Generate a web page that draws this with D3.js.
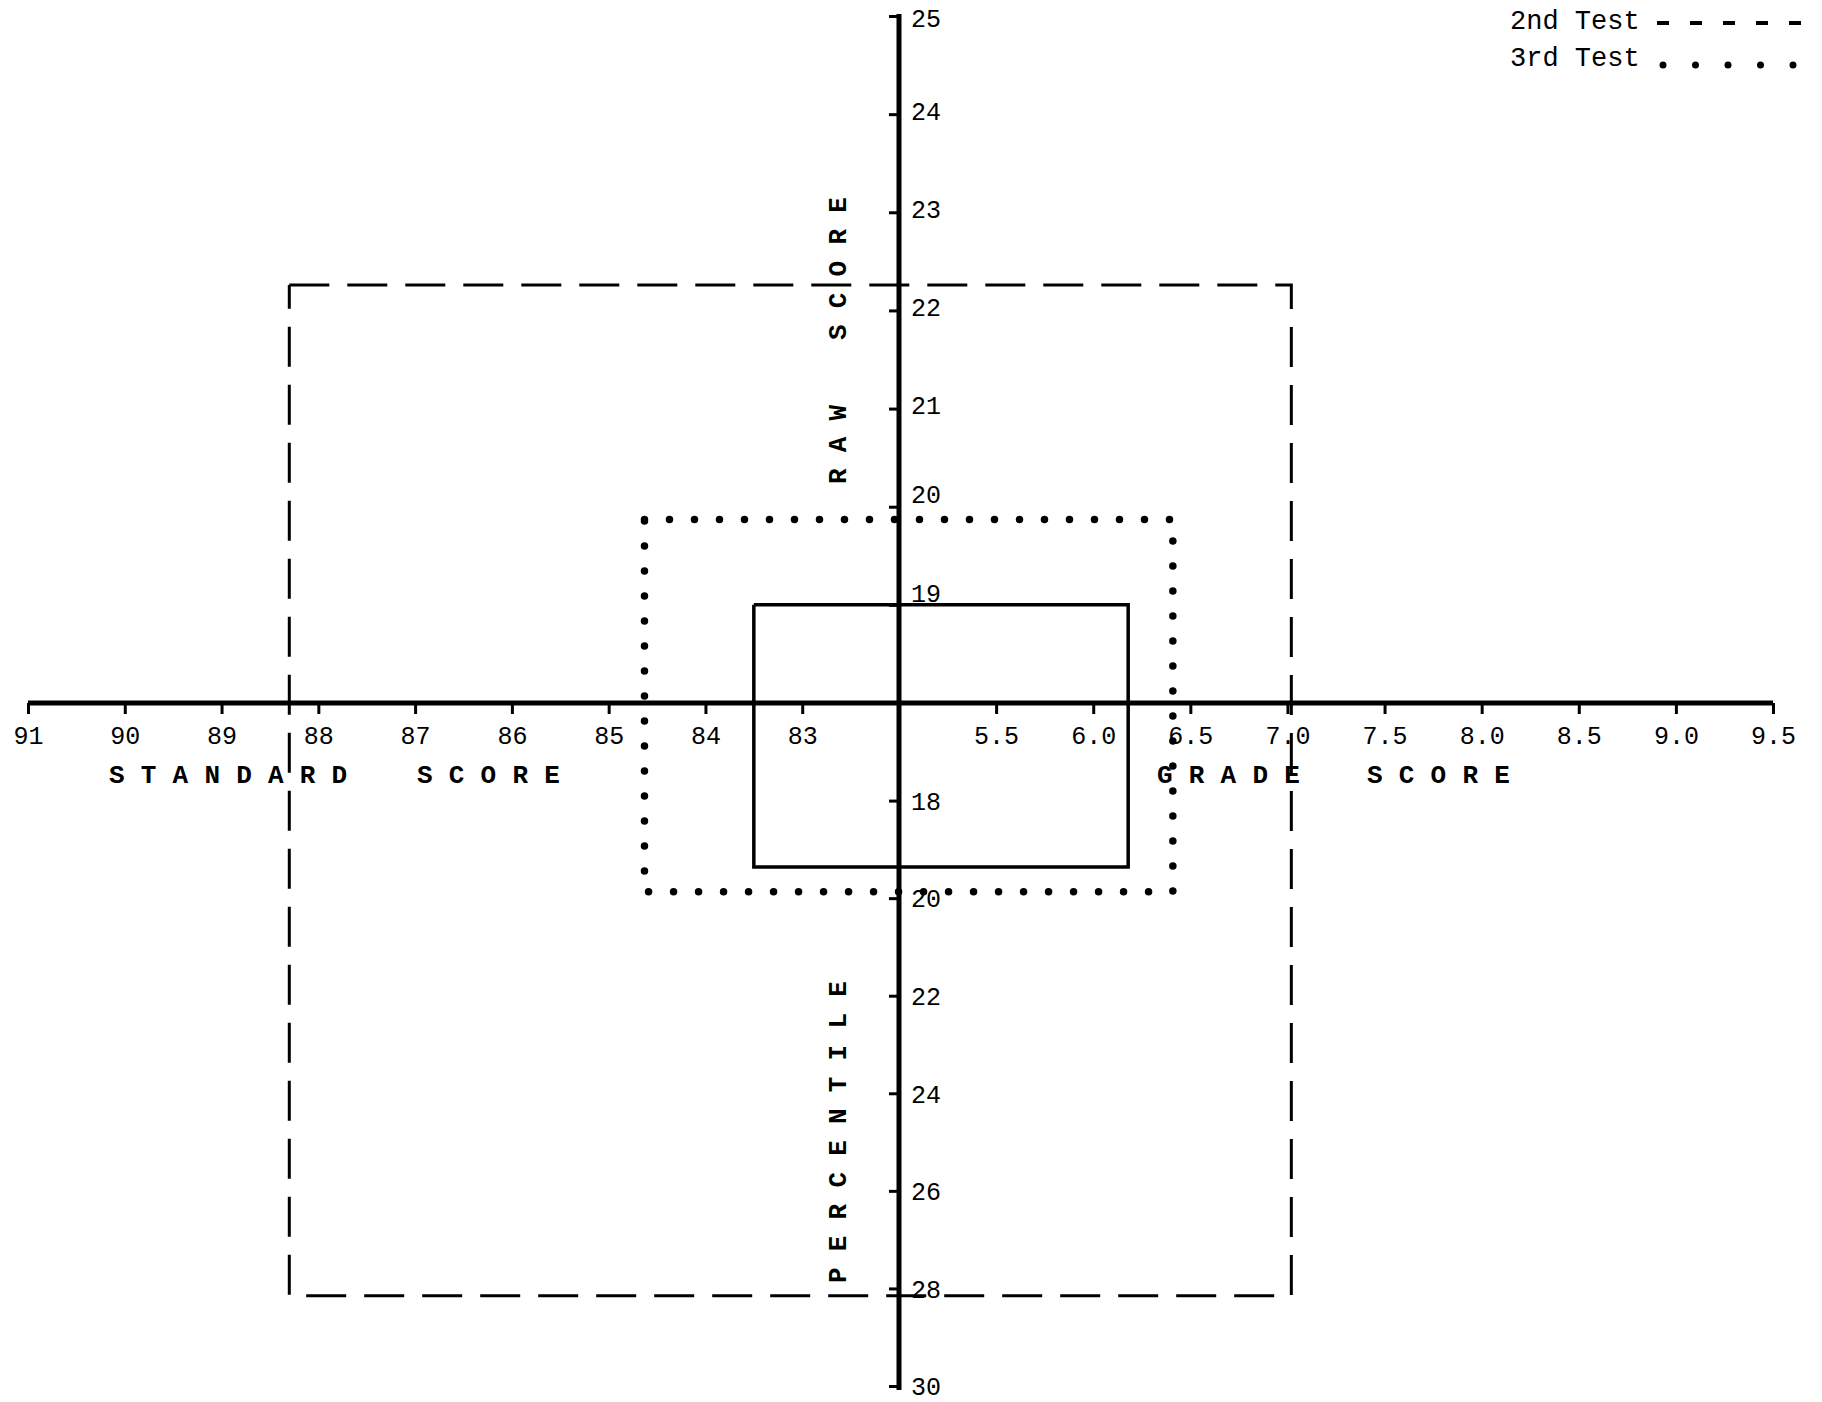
<!DOCTYPE html>
<html><head><meta charset="utf-8">
<script src="https://cdn.jsdelivr.net/npm/d3@7"></script>
<style>html,body{margin:0;padding:0;background:#fff;} svg{display:block;}</style>
</head><body>
<script>
// ---- data ----
const tests = ["1st Test", "2nd Test", "3rd Test"];
const standardScores = [83.5, 88.3, 84.63];   // left edge of each box
const gradeScores = [6.18, 7.02, 6.41];       // right edge
const rawScores = [19.0, 22.26, 19.87];       // top edge
const percentiles = [19.36, 28.15, 19.87];    // bottom edge
const lineStyles = ["solid", "dashed", "dotted"];

const standardTicks = [91, 90, 89, 88, 87, 86, 85, 84, 83];
const gradeTicks = [5.5, 6.0, 6.5, 7.0, 7.5, 8.0, 8.5, 9.0, 9.5];
const rawTicks = [25, 24, 23, 22, 21, 20, 19];
const percentileTicks = [18, 20, 22, 24, 26, 28, 30];
const legendTests = ["2nd Test", "3rd Test"];
const legendStyles = ["dashed", "dotted"];

// ---- layout ----
const W = 1822, H = 1402;
const ox = 899, oy = 703;
const MONO = "'Liberation Mono', 'DejaVu Sans Mono', monospace";

const xStd = d3.scaleLinear().domain([82, 91]).range([ox, 28]);
const xGrade = d3.scaleLinear().domain([5, 9.5]).range([ox, 1773]);
const yRaw = d3.scaleLinear().domain([18, 25]).range([oy, 16]);
const yPct = d3.scaleLinear().domain([16, 30]).range([oy, 1386]);

const svg = d3.select("body").append("svg")
  .attr("width", W).attr("height", H)
  .style("background", "#fff");

const dashFor = s => s === "dashed" ? "40 18" : s === "dotted" ? "0 25" : null;
const widthFor = s => s === "dotted" ? 7.5 : s === "dashed" ? 3 : 3.5;

// ---- boxes ----
tests.forEach((t, i) => {
  const xl = xStd(standardScores[i]), xr = xGrade(gradeScores[i]);
  const yt = yRaw(rawScores[i]), yb = yPct(percentiles[i]);
  const pts = [[xl, yt], [xr, yt], [xr, yb], [xl, yb], [xl, yt]];
  svg.append("path")
    .attr("d", d3.line()(pts))
    .attr("fill", "none")
    .attr("stroke", "#000")
    .attr("stroke-width", widthFor(lineStyles[i]))
    .attr("stroke-dasharray", dashFor(lineStyles[i]))
    .attr("stroke-linecap", lineStyles[i] === "dotted" ? "round" : "butt");
});

// ---- main axis lines ----
svg.append("line")
  .attr("x1", xStd(91)).attr("x2", xGrade(9.5))
  .attr("y1", oy).attr("y2", oy)
  .attr("stroke", "#000").attr("stroke-width", 5);
svg.append("line")
  .attr("x1", ox).attr("x2", ox)
  .attr("y1", yRaw(25) - 2).attr("y2", yPct(30) + 4)
  .attr("stroke", "#000").attr("stroke-width", 5);

function styleAxis(g) {
  g.select(".domain").remove();
  g.selectAll(".tick line").attr("stroke", "#000").attr("stroke-width", 3);
  g.selectAll(".tick text")
    .attr("fill", "#000")
    .style("font-family", MONO)
    .style("font-size", "25px");
}

// horizontal axes
const gStd = svg.append("g").attr("transform", `translate(0,${oy})`)
  .call(d3.axisBottom(xStd).tickValues(standardTicks).tickSize(11).tickFormat(d3.format("d")));
styleAxis(gStd);
const gGrade = svg.append("g").attr("transform", `translate(0,${oy})`)
  .call(d3.axisBottom(xGrade).tickValues(gradeTicks).tickSize(11).tickFormat(d3.format(".1f")));
styleAxis(gGrade);
[gStd, gGrade].forEach(g => g.selectAll(".tick text").attr("y", 23).attr("dy", "0.71em"));

// vertical axes (ticks to the left, labels to the right)
const gRaw = svg.append("g").attr("transform", `translate(${ox},0)`)
  .call(d3.axisLeft(yRaw).tickValues(rawTicks).tickSize(10).tickFormat(d3.format("d")));
styleAxis(gRaw);
gRaw.selectAll(".tick text").attr("x", 12).attr("text-anchor", "start")
  .attr("dy", d => d <= 20 ? "-0.15em" : d >= 25 ? "0.42em" : "0.2em");
const gPct = svg.append("g").attr("transform", `translate(${ox},0)`)
  .call(d3.axisLeft(yPct).tickValues(percentileTicks).tickSize(10).tickFormat(d3.format("d")));
styleAxis(gPct);
gPct.selectAll(".tick text").attr("x", 12).attr("text-anchor", "start").attr("dy", "0.35em");

// ---- axis titles ----
function spaced(txt, x, y, rotate) {
  const t = svg.append("text")
    .attr("x", x).attr("y", y)
    .style("font-family", MONO)
    .style("font-weight", "bold")
    .style("font-size", "26px")
    .style("letter-spacing", "16.2px")
    .attr("fill", "#000")
    .text(txt);
  if (rotate) t.attr("transform", `rotate(-90,${x},${y})`);
  return t;
}
spaced("STANDARD", 109, 783);
spaced("SCORE", 417, 783);
spaced("GRADE", 1157, 783);
spaced("SCORE", 1367, 783);
spaced("RAW", 846, 484, true);
spaced("SCORE", 846, 340, true);
spaced("PERCENTILE", 846, 1283, true);

// ---- legend ----
const legendY = [29, 66];
legendTests.forEach((t, i) => {
  svg.append("text")
    .attr("x", 1510).attr("y", legendY[i])
    .style("font-family", MONO)
    .style("font-size", "27px")
    .attr("fill", "#000")
    .text(t);
  const st = legendStyles[i];
  svg.append("line")
    .attr("x1", st === "dotted" ? 1663 : 1657).attr("x2", 1840)
    .attr("y1", st === "dotted" ? legendY[i] - 1 : legendY[i] - 6)
    .attr("y2", st === "dotted" ? legendY[i] - 1 : legendY[i] - 6)
    .attr("stroke", "#000")
    .attr("stroke-width", st === "dotted" ? 7 : 4)
    .attr("stroke-dasharray", st === "dotted" ? "0 32.5" : "12 21")
    .attr("stroke-linecap", st === "dotted" ? "round" : "butt");
});
</script>
</body></html>
